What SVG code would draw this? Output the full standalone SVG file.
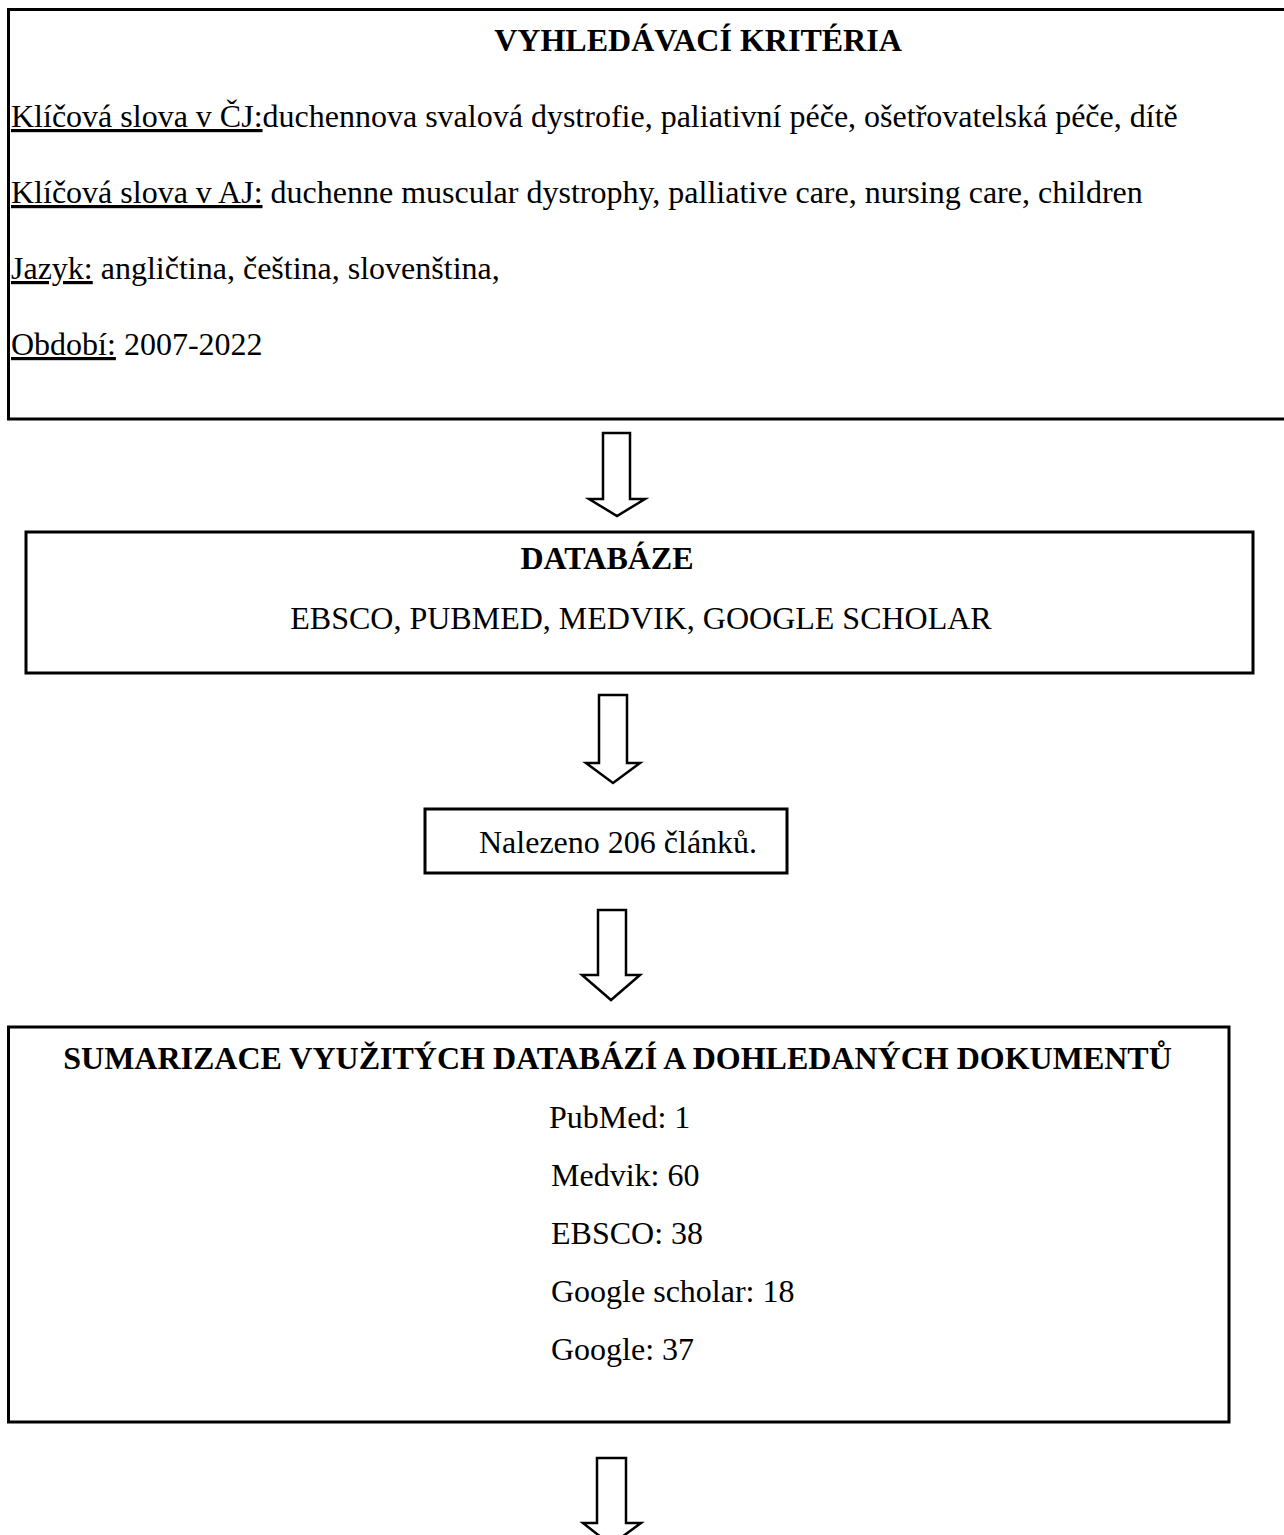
<svg xmlns="http://www.w3.org/2000/svg" width="1284" height="1535" viewBox="0 0 1284 1535">
<style>
  .box { fill: #ffffff; stroke: #000000; stroke-width: 3; }
  .arrow { fill: #ffffff; stroke: #000000; stroke-width: 2.5; stroke-linejoin: miter; }
  .t { font-family: "Liberation Serif", "Times New Roman", serif; font-size: 32px; fill: #000000; }
  .b { font-weight: bold; }
  .u { text-decoration: underline; }
</style>
<rect x="0" y="0" width="1284" height="1535" fill="#ffffff"/>

<g id="node-criteria">
  <rect class="box" x="8.5" y="9.5" width="1290" height="409.5"/>
  <text class="t b" x="698" y="51" text-anchor="middle">VYHLEDÁVACÍ KRITÉRIA</text>
  <text class="t" x="11" y="127"><tspan class="u">Klíčová slova v ČJ:</tspan>duchennova svalová dystrofie, paliativní péče, ošetřovatelská péče, dítě</text>
  <text class="t" x="11" y="203"><tspan class="u">Klíčová slova v AJ:</tspan> duchenne muscular dystrophy, palliative care, nursing care, children</text>
  <text class="t" x="11" y="279"><tspan class="u">Jazyk:</tspan> angličtina, čeština, slovenština,</text>
  <text class="t" x="11" y="355"><tspan class="u">Období:</tspan> 2007-2022</text>
</g>

<g id="node-databaze">
  <rect class="box" x="26" y="532" width="1227" height="141"/>
  <text class="t b" x="607" y="569" text-anchor="middle">DATABÁZE</text>
  <text class="t" x="641" y="629" text-anchor="middle">EBSCO, PUBMED, MEDVIK, GOOGLE SCHOLAR</text>
</g>

<g id="node-nalezeno">
  <rect class="box" x="425" y="809" width="362" height="64"/>
  <text class="t" x="479" y="853">Nalezeno 206 článků.</text>
</g>

<g id="node-sumarizace">
  <rect class="box" x="8.5" y="1027" width="1220.5" height="395"/>
  <text class="t b" x="617.5" y="1069" text-anchor="middle">SUMARIZACE VYUŽITÝCH DATABÁZÍ A DOHLEDANÝCH DOKUMENTŮ</text>
  <text class="t" x="549" y="1128">PubMed: 1</text>
  <text class="t" x="551" y="1186">Medvik: 60</text>
  <text class="t" x="551" y="1244">EBSCO: 38</text>
  <text class="t" x="551" y="1302">Google scholar: 18</text>
  <text class="t" x="551" y="1360">Google: 37</text>
</g>

<g id="connectors">
  <polygon class="arrow" points="603,433 630,433 630,499 645,499 617,516 589,499 603,499"/>
  <polygon class="arrow" points="599,695 627,695 627,763 640,763 613,783 586,763 599,763"/>
  <polygon class="arrow" points="598,910 626,910 626,975 640,975 611,1000 582,975 598,975"/>
  <polygon class="arrow" points="597,1458 626,1458 626,1523 641,1523 611,1545 583,1523 597,1523"/>
</g>
</svg>
